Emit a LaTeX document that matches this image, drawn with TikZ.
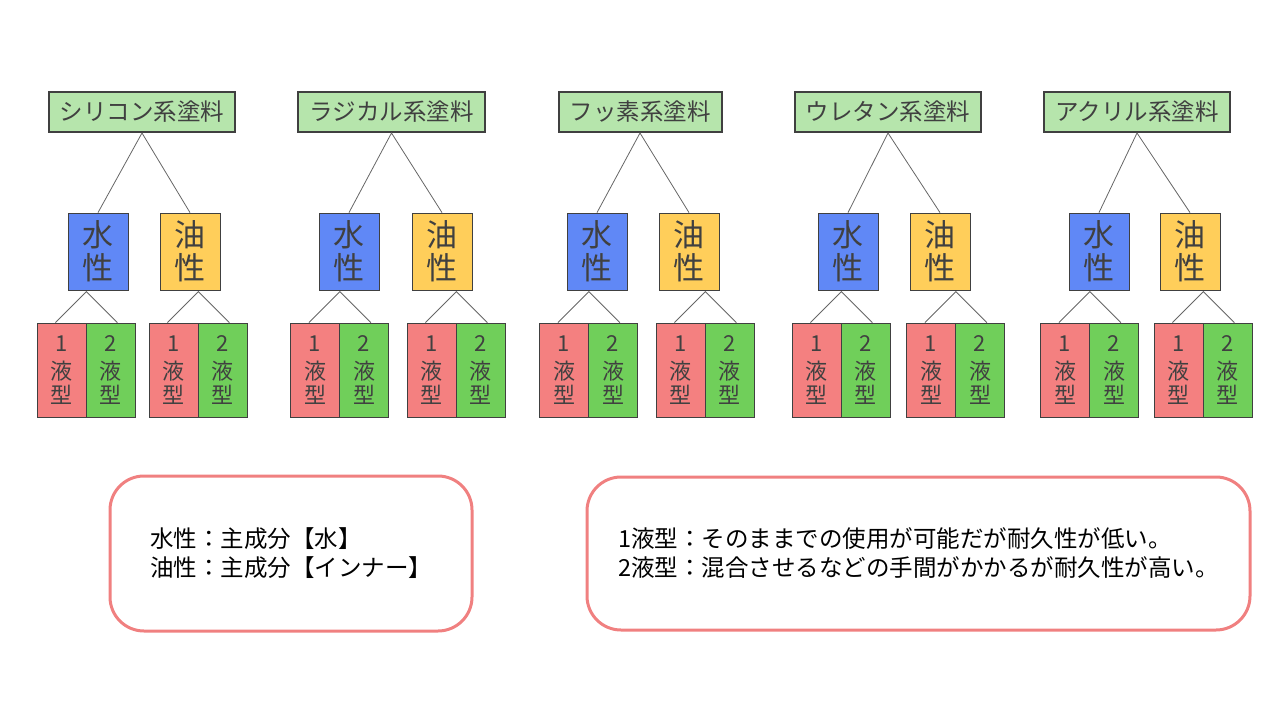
\documentclass[tikz,border=0pt]{standalone}
\usepackage{fontspec}
\setmainfont{Noto Sans CJK JP}
\usepackage{xcolor}
\usepackage{tikz}
\usetikzlibrary{positioning}
\definecolor{titlegreen}{HTML}{B6E5AC}
\definecolor{waterblue}{HTML}{6088F6}
\definecolor{oilyellow}{HTML}{FFCE5A}
\definecolor{onered}{HTML}{F48080}
\definecolor{twogreen}{HTML}{70CF5A}
\definecolor{notered}{HTML}{F08080}
\definecolor{inkgray}{HTML}{404040}

\begin{document}
\begin{tikzpicture}[x=1pt,y=-1pt,
	titlebox/.style={draw=inkgray,line width=2pt,fill=titlegreen,text=inkgray,minimum height=40pt,inner xsep=11pt,inner ysep=0pt,font=\fontsize{23.5}{26}\selectfont},
	kindbox/.style={draw=inkgray,line width=0.8pt,text=inkgray,minimum width=60pt,minimum height=77pt,inner sep=0pt,align=center,font=\fontsize{31}{33}\selectfont},
	waterbox/.style={kindbox,fill=waterblue},
	oilbox/.style={kindbox,fill=oilyellow},
	packbox/.style={draw=inkgray,line width=0.8pt,text=inkgray,minimum width=49pt,minimum height=94pt,inner sep=0pt,align=center,font=\fontsize{22}{24}\selectfont},
	onebox/.style={packbox,fill=onered},
	twobox/.style={packbox,fill=twogreen},
	link/.style={draw=black!60,line width=0.8pt},
	notebox/.style={draw=notered,line width=3pt,rounded corners=34pt,align=left,font=\fontsize{23.5}{29}\selectfont}]
	\useasboundingbox (0,0) rectangle (1280,720);
	% five paint groups
	\foreach \g/\name/\tx/\wx/\ox/\lp/\rp in {1/シリコン系塗料/142/98/190/86/198,2/ラジカル系塗料/391.5/349/442/339.5/456,3/フッ素系塗料/640/597/689/588.5/705,4/ウレタン系塗料/888/848/940/841/955.5,5/アクリル系塗料/1137/1099/1190/1089.5/1203}{
		\node[titlebox] (t\g) at (\tx,112) {\name};
		\node[waterbox] (w\g) at (\wx,251.5) {水\\性};
		\node[oilbox] (o\g) at (\ox,251.5) {油\\性};
		\node[onebox] (wa\g) at (\lp-24.5,370) {1\\[4pt]液\\型};
		\node[twobox] (wb\g) at (\lp+24.5,370) {2\\[4pt]液\\型};
		\node[onebox] (oa\g) at (\rp-24.5,370) {1\\[4pt]液\\型};
		\node[twobox] (ob\g) at (\rp+24.5,370) {2\\[4pt]液\\型};
		\draw[link] (w\g.north) -- (t\g.south) -- (o\g.north);
		\draw[link] ([xshift=-31pt]wa\g.north east) -- ([yshift=31pt]wa\g.north east) -- ([xshift=31pt]wa\g.north east);
		\draw[link] ([xshift=-31pt]oa\g.north east) -- ([yshift=31pt]oa\g.north east) -- ([xshift=31pt]oa\g.north east);
	}
	% notes
	\node[notebox,minimum width=362pt,minimum height=155pt] (base) at (291,553.5) {水性：主成分【水】\\油性：主成分【インナー】};
	\node[notebox,minimum width=663pt,minimum height=153pt] (pack) at (918.5,553.5) {1液型：そのままでの使用が可能だが耐久性が低い。\\2液型：混合させるなどの手間がかかるが耐久性が高い。};
\end{tikzpicture}
\end{document}
